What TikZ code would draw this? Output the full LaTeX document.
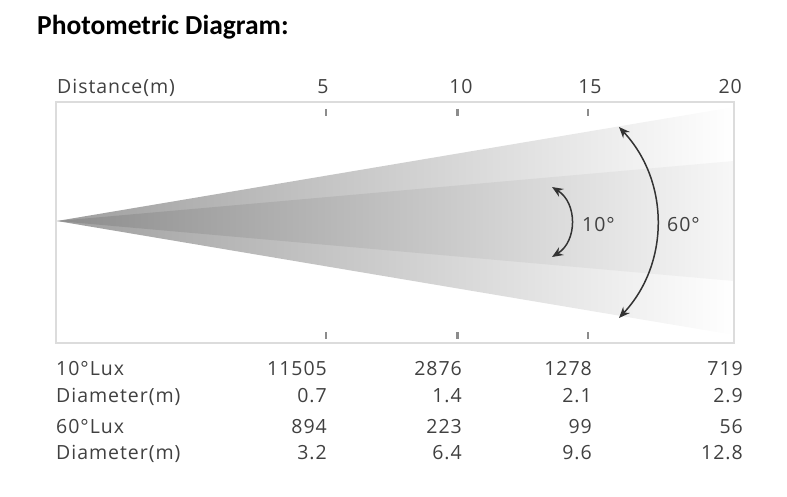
\documentclass[tikz,border=0pt]{standalone}
\usepackage{fontspec}
\setmainfont{Open Sans}
\newfontfamily\labfont[LetterSpace=5]{Open Sans}
\newfontfamily\titlefont{Carlito}
\usetikzlibrary{arrows.meta,positioning}
\definecolor{labelgray}{HTML}{404040}
\definecolor{framegray}{HTML}{DCDCDC}
\definecolor{tickgray}{HTML}{8C8C8C}
\definecolor{arcgray}{HTML}{333333}

\begin{document}
\begin{tikzpicture}[
  x=1pt, y=-1pt,
  lab/.style={inner sep=0pt, text=labelgray, font=\labfont\fontsize{19.5}{23}\selectfont},
  num/.style={lab, anchor=base east},
  rowname/.style={lab, anchor=base west},
  tickmark/.style={draw=tickgray, line width=2.2pt},
  anglearc/.style={{Stealth[length=11pt,width=9pt]}-{Stealth[length=11pt,width=9pt]}, line width=1.5pt, draw=arcgray}
]
\useasboundingbox (0,0) rectangle (787,497);

\node[anchor=base west, inner sep=0pt, font=\titlefont\bfseries\fontsize{27.5}{32}\selectfont] (title) at (37,35) {Photometric Diagram:};

% beam
\coordinate (apex) at (57,221);
\shade[left color=black!38, right color=white] (apex) -- (734,107) -- (734,335) -- cycle;
\shade[left color=black!45, right color=black!3] (apex) -- (734,161) -- (734,281) -- cycle;

% frame and axis
\draw[framegray, line width=1.5pt] (56,102) rectangle (734,343);
\node[rowname] (dist) at (57,94) {Distance(m)};
\node[lab, anchor=base] (d5) at (323,94) {5};
\node[lab, anchor=base] (d10) at (461,94) {10};
\node[lab, anchor=base] (d15) at (590,94) {15};
\node[num] (d20) at (742,94) {20};
\foreach \x in {326,457.5,588} {
  \draw[tickmark] (\x,109) -- (\x,116);
  \draw[tickmark] (\x,332) -- (\x,339);
}

% beam angles
\coordinate (a10t) at (552,187);
\coordinate (a10b) at (552,257);
\coordinate (a60t) at (619,127);
\coordinate (a60b) at (619,318);
\draw[anglearc] (a10t) to[bend left=58, looseness=1.1] (a10b);
\draw[anglearc] (a60t) to[bend left=43] (a60b);
\node[lab, anchor=west] (l10) at (582,225) {10°};
\node[lab, anchor=west] (l60) at (667,225) {60°};

% table
\node[rowname] (r1) at (56,375) {10°Lux};
\node[rowname] (r2) at (56,402) {Diameter(m)};
\node[rowname] (r3) at (56,433) {60°Lux};
\node[rowname] (r4) at (56,459) {Diameter(m)};

\node[num] at (327,375) {11505};
\node[num] at (462,375) {2876};
\node[num] at (592,375) {1278};
\node[num] at (743,375) {719};

\node[num] at (327,402) {0.7};
\node[num] at (462,402) {1.4};
\node[num] at (592,402) {2.1};
\node[num] at (743,402) {2.9};

\node[num] at (327,433) {894};
\node[num] at (462,433) {223};
\node[num] at (592,433) {99};
\node[num] at (743,433) {56};

\node[num] at (327,459) {3.2};
\node[num] at (462,459) {6.4};
\node[num] at (592,459) {9.6};
\node[num] at (743,459) {12.8};

\end{tikzpicture}
\end{document}
